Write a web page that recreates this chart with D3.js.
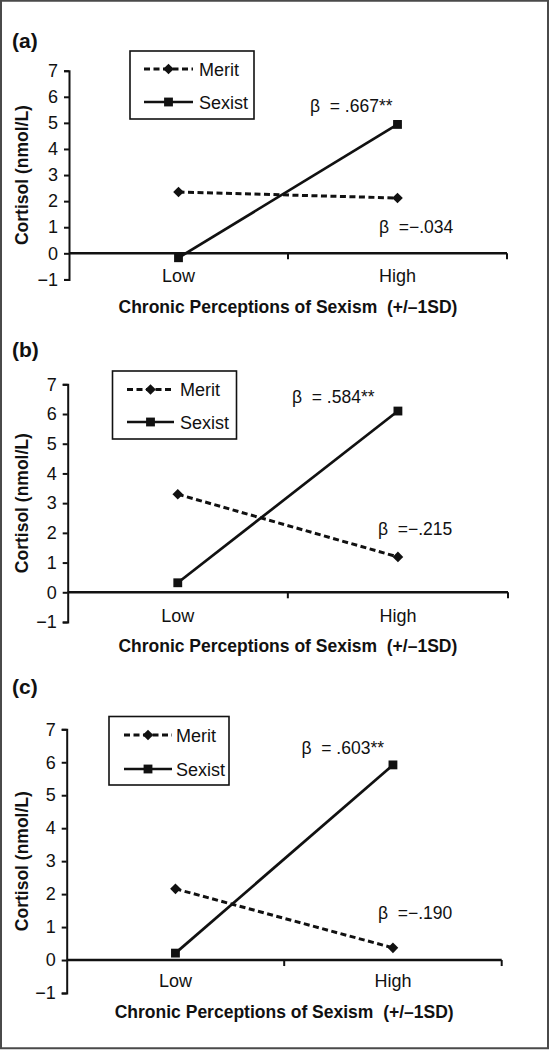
<!DOCTYPE html>
<html><head><meta charset="utf-8">
<script src="https://cdn.jsdelivr.net/npm/d3@7"></script>
<style>
html,body{margin:0;padding:0;background:#fff;}
svg{display:block;font-family:"Liberation Sans",Arial,Helvetica,sans-serif;}
</style></head>
<body>
<svg id="chart" width="549" height="1050"></svg>
<script>
// ---------- data ----------
const categories = ["Low", "High"];
const yTicks = [-1, 0, 1, 2, 3, 4, 5, 6, 7];
const seriesNames = ["Merit", "Sexist"];
const panelLabels = ["(a)", "(b)", "(c)"];
const meritValues = [[2.35, 2.12], [3.30, 1.19], [2.16, 0.37]];
const sexistValues = [[-0.17, 4.94], [0.32, 6.10], [0.21, 5.92]];
const betaSexist = ["β  = .667**", "β  = .584**", "β  = .603**"];
const betaMerit = ["β  =−.034", "β  =−.215", "β  =−.190"];
const yTitle = "Cortisol (nmol/L)";
const xTitle = "Chronic Perceptions of Sexism  (+/–1SD)";

// ---------- layout (pixels) ----------
const layout = [
  {left: 69, right: 507, yTop: 70.7, yBot: 279.4, label: [12, 48],
   legend: {x: 130, y: 51, w: 124, h: 68, r1: 69, r2: 102, l0: 144, l1: 193, tx: 199},
   betaS: [310, 112], betaM: [379, 233], catDy: 29, xTitleY: 313},
  {left: 67.7, right: 508, yTop: 384.3, yBot: 622, label: [12, 357],
   legend: {x: 112.5, y: 371, w: 124, h: 68, r1: 389.5, r2: 422, l0: 127, l1: 174, tx: 180},
   betaS: [292, 403], betaM: [378, 535], catDy: 29.5, xTitleY: 651.5},
  {left: 66.7, right: 501.7, yTop: 729.3, yBot: 993, label: [12, 694],
   legend: {x: 109, y: 716.5, w: 120, h: 68.5, r1: 735, r2: 769, l0: 124, l1: 172, tx: 176},
   betaS: [301.5, 754], betaM: [378, 919], catDy: 26.5, xTitleY: 1018}
];

const ink = "#111";
const svg = d3.select("#chart");

// outer frame
svg.append("rect").attr("x", 1).attr("y", 0.75).attr("width", 547).attr("height", 1047.5)
  .attr("fill", "none").attr("stroke", "#4a4a4a").attr("stroke-width", 2);

const diamond = d3.symbol().type(d3.symbolDiamond2).size(72);
const square = d3.symbol().type(d3.symbolSquare).size(78);

layout.forEach((L, i) => {
  const g = svg.append("g");
  const x = d3.scaleBand().domain(categories).range([L.left, L.right]).padding(0);
  const y = d3.scaleLinear().domain([-1, 7]).range([L.yBot, L.yTop]);
  const y0 = y(0);

  // panel label
  g.append("text").attr("x", L.label[0]).attr("y", L.label[1])
    .attr("font-size", 21).attr("font-weight", "bold").attr("fill", ink).text(panelLabels[i]);

  // y axis
  const ya = g.append("g").attr("transform", `translate(${L.left},0)`)
    .call(d3.axisLeft(y).tickValues(yTicks).tickSize(5).tickFormat(d => d < 0 ? "−" + Math.abs(d) : d));
  ya.attr("font-family", null);
  ya.select(".domain").attr("stroke", ink).attr("stroke-width", 2);
  ya.selectAll(".tick line").attr("stroke", ink).attr("stroke-width", 2);
  ya.selectAll(".tick text").attr("font-size", 18).attr("fill", ink).attr("x", -11);

  // x axis at y = 0
  g.append("line").attr("x1", L.left).attr("x2", L.right).attr("y1", y0).attr("y2", y0)
    .attr("stroke", ink).attr("stroke-width", 2.5);
  const bounds = categories.map(c => x(c) + x.bandwidth());
  g.selectAll(".xt").data(bounds).enter().append("line")
    .attr("x1", d => d).attr("x2", d => d).attr("y1", y0).attr("y2", y0 + 6)
    .attr("stroke", ink).attr("stroke-width", 2);
  g.selectAll(".xl").data(categories).enter().append("text")
    .attr("x", d => x(d) + x.bandwidth() / 2).attr("y", y0 + L.catDy)
    .attr("text-anchor", "middle").attr("font-size", 18).attr("fill", ink).text(d => d);

  // axis titles
  g.append("text").attr("transform", `translate(28,${(L.yTop + L.yBot) / 2}) rotate(-90)`)
    .attr("text-anchor", "middle").attr("font-size", 17.5).attr("font-weight", "bold").attr("fill", ink)
    .text(yTitle);
  g.append("text").attr("x", (L.left + L.right) / 2).attr("y", L.xTitleY)
    .attr("text-anchor", "middle").attr("font-size", 17.5).attr("font-weight", "bold").attr("fill", ink)
    .style("white-space", "pre").text(xTitle);

  const cx = c => x(c) + x.bandwidth() / 2;
  const line = d3.line().x((d, j) => cx(categories[j])).y(d => y(d));

  // merit (dashed + diamonds)
  g.append("path").datum(meritValues[i]).attr("d", line).attr("fill", "none")
    .attr("stroke", ink).attr("stroke-width", 3).attr("stroke-dasharray", "6,3.5");
  g.selectAll(".md").data(meritValues[i]).enter().append("path")
    .attr("d", diamond).attr("transform", (d, j) => `translate(${cx(categories[j])},${y(d)})`).attr("fill", ink);

  // sexist (solid + squares)
  g.append("path").datum(sexistValues[i]).attr("d", line).attr("fill", "none")
    .attr("stroke", ink).attr("stroke-width", 2.7);
  g.selectAll(".sq").data(sexistValues[i]).enter().append("path")
    .attr("d", square).attr("transform", (d, j) => `translate(${cx(categories[j])},${y(d)})`).attr("fill", ink);

  // beta annotations
  g.append("text").attr("x", L.betaS[0]).attr("y", L.betaS[1]).attr("font-size", 17.5)
    .attr("fill", ink).style("white-space", "pre").text(betaSexist[i]);
  g.append("text").attr("x", L.betaM[0]).attr("y", L.betaM[1]).attr("font-size", 17.5)
    .attr("fill", ink).style("white-space", "pre").text(betaMerit[i]);

  // legend
  const lg = L.legend;
  g.append("rect").attr("x", lg.x).attr("y", lg.y).attr("width", lg.w).attr("height", lg.h)
    .attr("fill", "#fff").attr("stroke", ink).attr("stroke-width", 1.6);
  const rows = [lg.r1, lg.r2];
  seriesNames.forEach((s, k) => {
    g.append("line").attr("x1", lg.l0).attr("x2", lg.l1).attr("y1", rows[k]).attr("y2", rows[k])
      .attr("stroke", ink).attr("stroke-width", k === 0 ? 3 : 2.7).attr("stroke-dasharray", k === 0 ? "6,3.5" : null);
    g.append("path").attr("d", k === 0 ? diamond : square)
      .attr("transform", `translate(${(lg.l0 + lg.l1) / 2},${rows[k]})`).attr("fill", ink);
    g.append("text").attr("x", lg.tx).attr("y", rows[k] + 6.5).attr("font-size", 18).attr("fill", ink).text(s);
  });
});
</script>
</body></html>
